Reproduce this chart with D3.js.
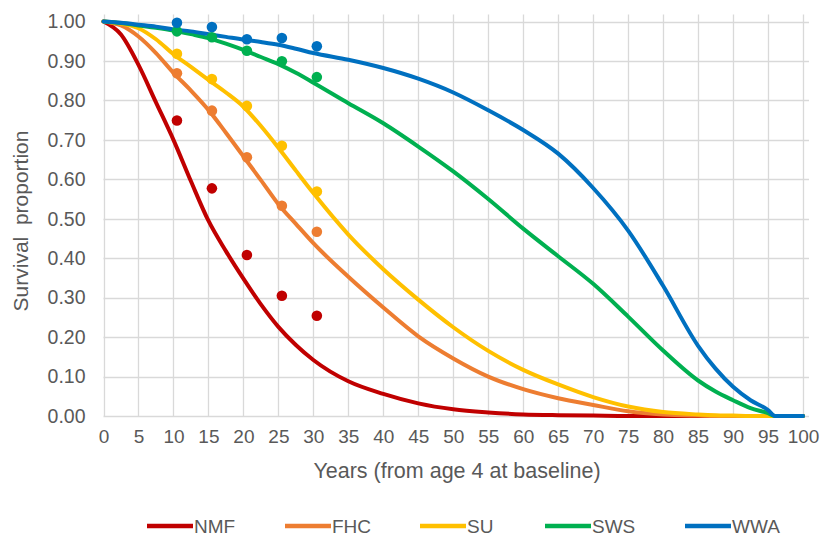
<!DOCTYPE html>
<html>
<head>
<meta charset="utf-8">
<script src="https://cdn.jsdelivr.net/npm/d3@7"></script>
<style>
  html, body { margin: 0; padding: 0; background: #fff; }
  svg { display: block; }
  text { font-family: "Liberation Sans", Arial, sans-serif; fill: #595959; }
</style>
</head>
<body>
<svg id="chart" width="823" height="537"></svg>
<script>
// ---- Data ----
const seriesNames = ["NMF", "FHC", "SU", "SWS", "WWA"];
const years = [0,2.5,5,7.5,10,12.5,15,17.5,20,22.5,25,27.5,30,35,40,45,50,55,60,65,70,75,80,85,87.5,90,92.5,95,96,100];
const nmf = [1,0.967,0.89,0.795,0.70,0.595,0.495,0.418,0.348,0.283,0.226,0.18,0.142,0.088,0.056,0.032,0.017,0.009,0.004,0.002,0.001,0,0,0,0,0,0,0,0,0];
const fhc = [1,0.99,0.962,0.92,0.87,0.825,0.776,0.718,0.658,0.598,0.537,0.487,0.438,0.353,0.275,0.202,0.146,0.10,0.068,0.045,0.028,0.012,0.004,0.001,0,0,0,0,0,0];
const su  = [1,0.995,0.983,0.955,0.917,0.885,0.852,0.82,0.784,0.735,0.68,0.622,0.565,0.46,0.372,0.295,0.225,0.165,0.117,0.08,0.048,0.024,0.01,0.004,0.002,0.001,0,0,0,0];
const sws = [1,0.996,0.99,0.984,0.977,0.968,0.958,0.944,0.928,0.91,0.892,0.87,0.845,0.793,0.742,0.683,0.62,0.55,0.475,0.405,0.335,0.252,0.166,0.09,0.062,0.04,0.02,0.007,0,0];
const wwa = [1,0.997,0.992,0.987,0.98,0.975,0.968,0.961,0.954,0.948,0.941,0.931,0.92,0.903,0.882,0.855,0.82,0.775,0.725,0.665,0.578,0.47,0.33,0.178,0.12,0.074,0.04,0.015,0,0];

const dotYears = [10.5,15.5,20.5,25.5,30.5];
const dotsNMF = [0.749,0.577,0.408,0.305,0.254];
const dotsFHC = [0.869,0.774,0.656,0.533,0.467];
const dotsSU  = [0.918,0.854,0.786,0.685,0.569];
const dotsSWS = [0.975,0.960,0.926,0.899,0.859];
const dotsWWA = [0.997,0.986,0.955,0.958,0.937];

const xTicks = d3.range(0, 101, 5);
const yTicks = d3.range(0, 1.0001, 0.1);
const xTitle = "Years (from age 4 at baseline)";
const yTitle = "Survival\u00a0 proportion";

// ---- Styles ----
const colors = ["#C00000", "#ED7D31", "#FFC000", "#00B050", "#0070C0"];
const curves = [nmf, fhc, su, sws, wwa];
const dots = [dotsNMF, dotsFHC, dotsSU, dotsSWS, dotsWWA];

const svg = d3.select("#chart");
const x = d3.scaleLinear().domain([0, 100]).range([103.5, 803]);
const y = d3.scaleLinear().domain([0, 1]).range([416, 21.5]);

// Gridlines
const grid = svg.append("g");
grid.selectAll("line.v").data(xTicks).join("line")
  .attr("x1", d => Math.round(x(d)) + 0.5).attr("x2", d => Math.round(x(d)) + 0.5)
  .attr("y1", y(1) - 7).attr("y2", y(0))
  .attr("stroke", "#d9d9d9").attr("stroke-width", 1.3);
grid.selectAll("line.h").data(yTicks).join("line")
  .attr("x1", x(0)).attr("x2", x(100) + 6)
  .attr("y1", d => Math.round(y(d)) + 0.5).attr("y2", d => Math.round(y(d)) + 0.5)
  .attr("stroke", "#d9d9d9").attr("stroke-width", 1.3);

// Axes labels via d3 axes
const xAxis = svg.append("g").attr("transform", `translate(0,${y(0)})`)
  .call(d3.axisBottom(x).tickValues(xTicks).tickFormat(d3.format("d")).tickSize(0).tickPadding(14));
xAxis.select(".domain").remove();
xAxis.selectAll("text").style("font-size", "19px").style("fill", "#595959")
  .style("font-family", '"Liberation Sans", Arial, sans-serif');

const yAxis = svg.append("g").attr("transform", `translate(${x(0)},0)`)
  .call(d3.axisLeft(y).tickValues(yTicks).tickFormat(d3.format(".2f")).tickSize(0).tickPadding(18));
yAxis.select(".domain").remove();
yAxis.selectAll("text").style("font-size", "19.5px").style("fill", "#595959")
  .style("font-family", '"Liberation Sans", Arial, sans-serif');

// Titles
svg.append("text").attr("x", 457).attr("y", 478).attr("text-anchor", "middle")
  .style("font-size", "21.5px").text(xTitle);
svg.append("text").attr("transform", "translate(28,221) rotate(-90)").attr("text-anchor", "middle")
  .style("font-size", "21px").text(yTitle);

// Curves
const line = d3.line().x((d, i) => x(years[i])).y(d => y(d)).curve(d3.curveMonotoneX);
curves.forEach((vals, k) => {
  svg.append("path").datum(vals).attr("d", line)
    .attr("fill", "none").attr("stroke", colors[k]).attr("stroke-width", 4)
    .attr("stroke-linejoin", "round").attr("stroke-linecap", "round");
});

// Dots
dots.forEach((vals, k) => {
  svg.append("g").selectAll("circle").data(vals).join("circle")
    .attr("cx", (d, i) => x(dotYears[i])).attr("cy", d => y(d)).attr("r", 5.3)
    .attr("fill", colors[k]);
});

// Legend
const legendX = [147, 285, 420, 545, 685];
const legend = svg.append("g");
seriesNames.forEach((name, k) => {
  legend.append("line").attr("x1", legendX[k]).attr("x2", legendX[k] + 46)
    .attr("y1", 526).attr("y2", 526).attr("stroke", colors[k]).attr("stroke-width", 4.5);
  legend.append("text").attr("x", legendX[k] + 47).attr("y", 532.5)
    .style("font-size", "19px").text(name);
});
</script>
</body>
</html>
